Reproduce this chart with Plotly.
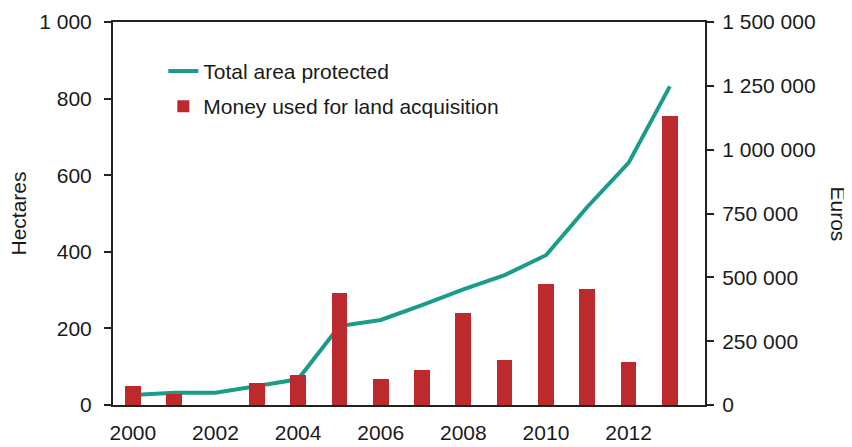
import plotly.graph_objects as go

years = list(range(2000, 2014))
area_ha = [26, 32, 32, 50, 67, 206, 222, 261, 302, 339, 391, 517, 632, 832]
money_eur = [75000, 42000, None, 88000, 118000, 440000, 103000, 138000, 359000, 175000, 475000, 455000, 168000, 1130000]

left_ticks = [0, 200, 400, 600, 800, 1000]
left_text = ["0", "200", "400", "600", "800", "1 000"]
right_ticks = [0, 250000, 500000, 750000, 1000000, 1250000, 1500000]
right_text = ["0", "250 000", "500 000", "750 000", "1 000 000", "1 250 000", "1 500 000"]
x_ticks = [2000, 2002, 2004, 2006, 2008, 2010, 2012]

RED = "#bd2a2e"
TEAL = "#1a9c88"
FONT = "Liberation Sans, Arial, sans-serif"
FS = 21

fig = go.Figure()
fig.add_trace(go.Bar(x=years, y=money_eur, name="Money used for land acquisition",
                     marker=dict(color=RED, line=dict(width=0)), width=0.38, yaxis="y2",
                     legendgroup="b", legendrank=2))
fig.add_trace(go.Scatter(x=years, y=area_ha, name="Total area protected", mode="lines",
                         line=dict(color=TEAL, width=4), legendgroup="a", legendrank=1))

axis_common = dict(showgrid=False, zeroline=False, showline=True, linecolor="#222",
                   linewidth=2, automargin=False)

fig.update_layout(
    width=852, height=447,
    margin=dict(l=105, r=155, t=14, b=50, autoexpand=False),
    paper_bgcolor="white", plot_bgcolor="white",
    font=dict(family=FONT, size=FS, color="#1a1a1a"),
    showlegend=True,
    legend=dict(x=0.085, y=0.925, xanchor="left", yanchor="top",
                bgcolor="rgba(0,0,0,0)", font=dict(size=FS), itemwidth=30, tracegroupgap=5),
    xaxis=dict(range=[1999.52, 2013.85], tickvals=x_ticks, ticktext=[str(v) for v in x_ticks],
               mirror=True, ticks="", ticklabelstandoff=8, **axis_common),
    yaxis=dict(range=[0, 1000], tickvals=left_ticks, ticktext=left_text,
               ticks="outside", ticklen=7, tickwidth=1.5, tickcolor="#222",
               ticklabelstandoff=8, **axis_common),
    yaxis2=dict(range=[0, 1500000], tickvals=right_ticks, ticktext=right_text, overlaying="y",
                side="right", ticks="outside", ticklen=7, tickwidth=1.5, tickcolor="#222",
                ticklabelstandoff=4, **axis_common),
    bargap=0,
)
fig.add_annotation(text="Hectares", xref="paper", yref="paper", x=0, y=0.5, xanchor="center",
                   yanchor="middle", xshift=-95, textangle=-90, showarrow=False,
                   font=dict(size=FS, family=FONT))
fig.add_annotation(text="Euros", xref="paper", yref="paper", x=1.0, y=0.5, xanchor="center",
                   yanchor="middle", xshift=133, textangle=90, showarrow=False,
                   font=dict(size=FS, family=FONT))
fig.write_html("out.html")
